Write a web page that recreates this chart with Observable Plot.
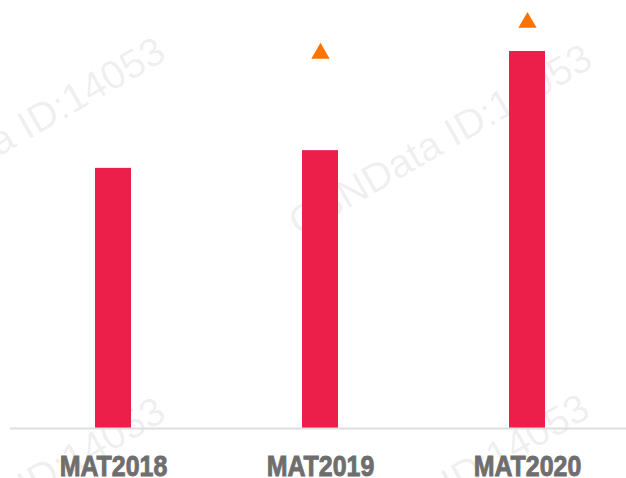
<!DOCTYPE html>
<html>
<head>
<meta charset="utf-8">
<script src="https://cdn.jsdelivr.net/npm/d3@7"></script>
<script src="https://cdn.jsdelivr.net/npm/@observablehq/plot@0.6"></script>
<style>
  html, body { margin: 0; padding: 0; background: #ffffff; }
  #chart { width: 626px; height: 478px; overflow: hidden; }
</style>
</head>
<body>
<div id="chart"></div>
<script>
const periods = ["MAT2018", "MAT2019", "MAT2020"];
const values = [69.0, 73.7, 100.0];
const growthPeriods = ["MAT2019", "MAT2020"];
const growthMarkers = [99.5, 107.7];
const watermarkText = "CBNData ID:14053";

const bars = periods.map((p, i) => ({period: p, value: values[i]}));
const ups = growthPeriods.map((p, i) => ({period: p, value: growthMarkers[i]}));

const wm = (dx, dy) => Plot.text([watermarkText], {
  frameAnchor: "top-left", dx, dy, text: d => d,
  rotate: -30, fontSize: 40, fill: "#000", fillOpacity: 0.075,
  fontFamily: "Liberation Sans, Arial, sans-serif", textAnchor: "middle", lineAnchor: "middle"
});

const chart = Plot.plot({
  width: 626,
  height: 478,
  marginTop: 0,
  marginLeft: 10,
  marginRight: 0,
  marginBottom: 50,
  style: {background: "#ffffff", overflow: "visible"},
  x: {domain: periods, range: [9.5, 630.5], paddingInner: 0.826, paddingOuter: 0.413, label: null},
  y: {domain: [0, 100], range: [428, 51], axis: null},
  marks: [
    wm(3, 133),
    wm(430, 140),
    wm(3, 493),
    wm(427, 490),
    Plot.barY(bars, {x: "period", y: "value", fill: "#EC1F4A"}),
    Plot.dot(ups, {x: "period", y: "value", symbol: "triangle", r: 6.8, fill: "#FF7400", stroke: null}),
    Plot.ruleY([0], {stroke: "#dedede", strokeWidth: 2}),
    Plot.axisX({
      tickSize: 0, tickPadding: 27, fontSize: 29, fontWeight: "bold",
      fill: "#6e6e6e", fontFamily: "'Liberation Sans', Arial, sans-serif",
      label: null
    })
  ]
});
// condense the tick labels horizontally and thicken them to match the heavy narrow face
d3.select(chart).selectAll("g[aria-label='x-axis tick label'] text").each(function() {
  const t = this.getAttribute("transform") || "";
  this.setAttribute("transform", t + " scale(0.86,1)");
  this.setAttribute("stroke", "#6e6e6e");
  this.setAttribute("stroke-width", "0.9");
  this.setAttribute("paint-order", "stroke");
});
document.getElementById("chart").appendChild(chart);
</script>
</body>
</html>
